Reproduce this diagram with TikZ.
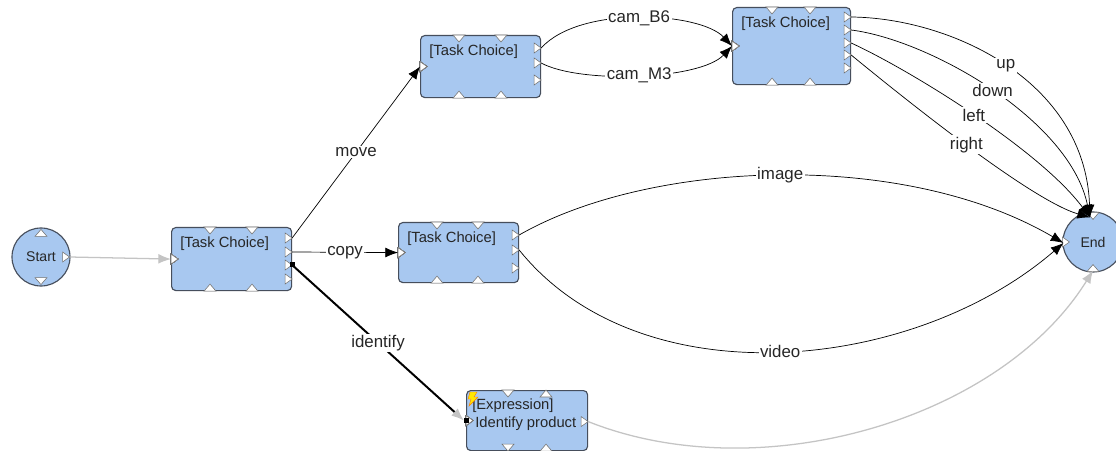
\documentclass[tikz,border=0pt]{standalone}
\usepackage{fontspec}
\setmainfont{Liberation Sans}
\usetikzlibrary{arrows.meta,calc}

\definecolor{taskfill}{RGB}{168,200,240}
\definecolor{taskline}{RGB}{70,78,92}
\definecolor{linkgray}{RGB}{196,196,196}

\tikzset{
  task/.style={draw=taskline, fill=taskfill, rounded corners=3pt, anchor=north west, inner sep=0pt, line width=0.8pt},
  tasktext/.style={anchor=base west, inner sep=0pt, font=\fontsize{10.5}{12}\selectfont, text=black!85},
  terminal/.style={circle, draw=taskline, fill=taskfill, line width=0.8pt, inner sep=0pt, font=\fontsize{10}{12}\selectfont, text=black!85},
  port/.style={draw=black!55, fill=white, line width=0.4pt, sharp corners},
  link/.style={draw=black, line width=0.5pt, -{Latex[length=9pt,width=7pt]}},
  greylink/.style={draw=linkgray, line width=0.9pt, -{Latex[length=9pt,width=7pt]}},
  lbl/.style={fill=white, inner sep=1pt, font=\fontsize{12}{14}\selectfont, text=black!85}
}

% port markers, #1 is the point on the edge
\newcommand{\portright}[1]{\draw[port] (#1) ++(-7,-5) -- ++(7,5) -- ++(-7,5) -- cycle;}
\newcommand{\portin}[1]{\draw[port] (#1) ++(0,-5) -- ++(7,5) -- ++(-7,5) -- cycle;}
\newcommand{\portdown}[1]{\draw[port] (#1) ++(-6,0) -- ++(6,7) -- ++(6,-7) -- cycle;}
\newcommand{\portup}[1]{\draw[port] (#1) ++(-6,0) -- ++(6,-7) -- ++(6,7) -- cycle;}

\begin{document}
\begin{tikzpicture}[x=0.025cm, y=-0.025cm]
  \clip (0,0) rectangle (1116,451);
  \fill[white] (0,0) rectangle (1116,451);

  % start / end
  \node [terminal, minimum size=1.45cm] (start) at (41,257) {Start};
  \node [terminal, minimum size=1.5cm] (end) at (1093,242) {End};

  % task boxes
  \node [task, minimum width=3cm, minimum height=1.575cm] (tcA) at (171,227) {};
  \node [task, minimum width=3cm, minimum height=1.55cm] (tcB) at (420,35) {};
  \node [task, minimum width=2.95cm, minimum height=1.925cm] (tcC) at (732,7) {};
  \node [task, minimum width=3cm, minimum height=1.5cm] (tcD) at (398,222) {};
  \node [task, minimum width=3.025cm, minimum height=1.5cm] (expr) at (466,390) {};

  \foreach \tb in {tcA,tcB,tcC,tcD}
    \node [tasktext] (\tb-t) at ($(\tb.north west)+(9,21)$) {[Task Choice]};
  \node [tasktext] (expr-t1) at ($(expr.north west)+(6,19)$) {[Expression]};
  \node [tasktext] (expr-t2) at ($(expr.north west)+(9,37)$) {Identify product};
  \filldraw [fill=yellow!90!orange, draw=orange, line width=0.3pt]
    ($(expr.north west)+(4,2)$) -- ++(7,0) -- ++(-3,5) -- ++(4,0) -- ++(-9,9) -- ++(2,-7) -- ++(-3,0) -- cycle;

  % ports
  \coordinate (start-o) at ($(start.east)+(-1,0)$);
  \coordinate (end-n) at ($(end.north)+(-3,6)$);
  \coordinate (end-in) at ($(end.west)+(1,1)$);
  \coordinate (end-s) at ($(end.south)+(0,-2)$);
  \foreach \tb/\ofs in {tcA/11, tcA/25, tcA/38, tcA/52, tcB/13, tcB/28, tcB/45,
                         tcC/10, tcC/23, tcC/36, tcC/48, tcC/61, tcD/13, tcD/28, tcD/46}
    \portright{$(\tb.north east)+(0,\ofs)$}
  \foreach \tb in {tcA,tcB,tcC,tcD,expr}
    \portin{\tb.west};
  \foreach \tb/\a/\b in {tcA/39/81, tcB/39/81, tcC/40/78, tcD/39/80}{
    \portdown{$(\tb.north west)+(\a,0)$}
    \portdown{$(\tb.north west)+(\b,0)$}
    \portup{$(\tb.south west)+(\a,0)$}
    \portup{$(\tb.south west)+(\b,0)$}
  }
  \portdown{$(expr.north west)+(42,0)$}
  \portup{$(expr.north west)+(80,7)$}
  \portdown{$(expr.south west)+(42,-7)$}
  \portup{$(expr.south west)+(80,0)$}
  \portright{$(expr.east)+(0,1)$}
  \portup{$(start.north)+(0,9)$}
  \portdown{$(start.south)+(0,-9)$}
  \portright{start-o}
  \portdown{$(end.north)+(0,1)$}
  \portin{end.west}
  \portup{$(end.south)+(0,-1)$}

  % connectors
  \draw [greylink] (start-o) -- (tcA.west);
  \foreach \from/\ofs/\to/\name in {tcA/11/tcB/move, tcA/25/tcD/copy}
    \draw [link] ($(\from.north east)+(0,\ofs)$) -- node[lbl]{\name} (\to.west);
  \draw [line width=1.4pt, -{Latex[length=9pt,width=7pt,color=linkgray]}]
    ($(tcA.north east)+(0,38)$) -- node[lbl]{identify} ($(expr.west)+(-2,0)$);
  \fill ($(tcA.north east)+(0,38)$) ++(-2.5,-2.5) rectangle ++(5,5);
  \fill (expr.west) ++(-2.5,-2.5) rectangle ++(5,5);

  \draw [link] ($(tcB.north east)+(0,13)$) .. controls (580,5) and (700,12) .. node[lbl]{cam\_B6} (tcC.west);
  \draw [link] ($(tcB.north east)+(0,28)$) .. controls (580,84) and (700,80) .. node[lbl]{cam\_M3} (tcC.west);

  \draw [link] ($(tcC.north east)+(0,10)$) .. controls (950,18) and (1085,80) .. node[lbl]{up} (end-n);
  \draw [link] ($(tcC.north east)+(0,23)$) .. controls (930,40) and (1070,120) .. node[lbl]{down} (end-n);
  \draw [link] ($(tcC.north east)+(0,36)$) .. controls (910,70) and (1040,150) .. node[lbl]{left} (end-n);
  \draw [link] ($(tcC.north east)+(0,48)$) .. controls (900,95) and (1030,200) .. node[lbl]{right} (end-n);

  \draw [link] ($(tcD.north east)+(0,13)$) .. controls (650,160) and (903,149) .. node[lbl]{image} (end-in);
  \draw [link] ($(tcD.north east)+(0,28)$) .. controls (640,400) and (913,373) .. node[lbl]{video} (end-in);

  \draw [greylink] ($(expr.east)+(0,1)$) .. controls (760,490) and (1000,420) .. (end-s);
\end{tikzpicture}
\end{document}
